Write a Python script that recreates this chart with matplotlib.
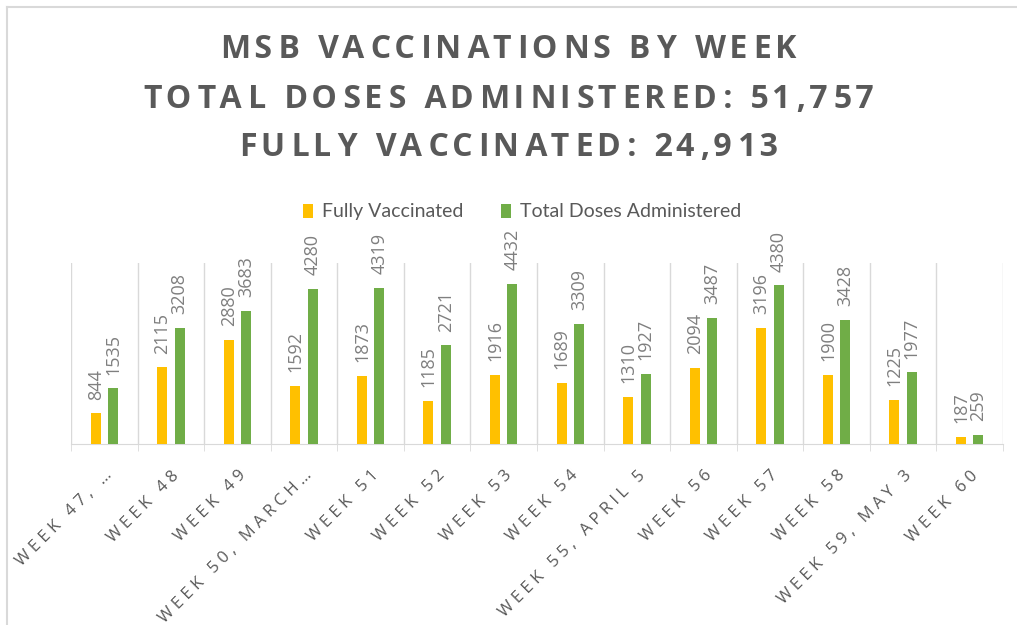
import matplotlib
matplotlib.use("Agg")
import matplotlib.pyplot as plt
import numpy as np
from matplotlib.lines import Line2D

categories = ["WEEK 47, …", "WEEK 48", "WEEK 49", "WEEK 50, MARCH…", "WEEK 51", "WEEK 52",
              "WEEK 53", "WEEK 54", "WEEK 55, APRIL 5", "WEEK 56", "WEEK 57", "WEEK 58",
              "WEEK 59, MAY 3", "WEEK 60"]
fully_vaccinated = [844, 2115, 2880, 1592, 1873, 1185, 1916, 1689, 1310, 2094, 3196, 1900, 1225, 187]
total_doses = [1535, 3208, 3683, 4280, 4319, 2721, 4432, 3309, 1927, 3487, 4380, 3428, 1977, 259]
series_names = ["Fully Vaccinated", "Total Doses Administered"]
title_lines = ["MSB VACCINATIONS BY WEEK", "TOTAL DOSES ADMINISTERED: 51,757", "FULLY VACCINATED: 24,913"]

YELLOW = "#FFC000"
GREEN = "#70AD47"
GRAY = "#595959"
LGRAY = "#D9D9D9"
FONT = ["Open Sans", "DejaVu Sans"]
LEGFONT = ["Lato", "DejaVu Sans"]
HAIR = "\u200a"
THIN = "\u2009"


def spaced(s, seps):
    out = s[0]
    for i, ch in enumerate(s[1:]):
        out += seps[i % len(seps)] + ch
    return out


fig = plt.figure(figsize=(10.17, 6.25), dpi=100)
ax = fig.add_axes([71/1017, 1-444/625, (1003-71)/1017, (444-263)/625])

x = np.arange(len(categories))
w = 0.15
off = 0.13
b1 = ax.bar(x - off, fully_vaccinated, w, color=YELLOW, label=series_names[0], zorder=3)
b2 = ax.bar(x + off, total_doses, w, color=GREEN, label=series_names[1], zorder=3)

for bars, vals in ((b1, fully_vaccinated), (b2, total_doses)):
    for r, v in zip(bars, vals):
        ax.annotate(str(v), (r.get_x() + r.get_width()/2, r.get_height()),
                    xytext=(0, 10), textcoords="offset points", rotation=90,
                    ha="center", va="bottom", fontsize=13, color="#7F7F7F", family=FONT)

ax.set_xlim(-0.5, len(categories) - 0.5)
ax.set_ylim(0, 5000)
ax.set_yticks([])
ax.set_xticks(x)
ax.set_xticklabels([spaced(c, [THIN + HAIR]) for c in categories], rotation=45, ha="right",
                   rotation_mode="anchor", fontsize=12, color=GRAY, family=FONT)
ax.tick_params(axis="x", which="major", length=0, pad=17)
ax.set_xticks(np.arange(len(categories) + 1) - 0.5, minor=True)
ax.tick_params(axis="x", which="minor", length=5, color=LGRAY)
ax.grid(axis="x", which="minor", color=LGRAY, linewidth=1, zorder=0)
for s in ("top", "right", "left"):
    ax.spines[s].set_visible(False)
ax.spines["bottom"].set_color(LGRAY)

for i, line in enumerate(title_lines):
    fig.text(0.5, 1 - (50 + 49*i)/625, spaced(line, [HAIR, HAIR + HAIR]), ha="center", va="center",
             fontsize=23, fontweight="bold", color=GRAY, family=FONT)

leg = fig.legend(handles=[b1, b2], labels=series_names, loc="center",
                 bbox_to_anchor=(522/1017, 1-212/625), ncol=2, frameon=False,
                 handlelength=0.55, handleheight=0.75, columnspacing=1.9, handletextpad=0.45,
                 prop={"family": LEGFONT, "size": 14})
for t in leg.get_texts():
    t.set_color(GRAY)

fig.add_artist(Line2D([7/1017, 1], [1-7/625, 1-7/625], transform=fig.transFigure, color=LGRAY, lw=1.5))
fig.add_artist(Line2D([7/1017, 7/1017], [0, 1-7/625], transform=fig.transFigure, color=LGRAY, lw=1.5))

fig.savefig("out.png", dpi=100, facecolor="white")
